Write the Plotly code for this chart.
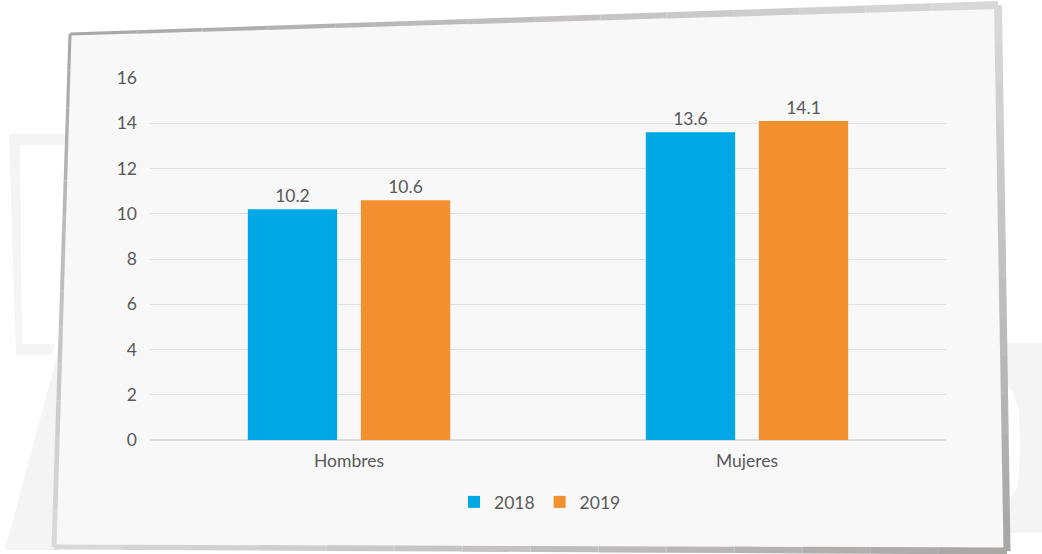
import plotly.graph_objects as go

categories = ["Hombres", "Mujeres"]
years = ["2018", "2019"]
values_2018 = [10.2, 13.6]
values_2019 = [10.6, 14.1]
y_ticks = [0, 2, 4, 6, 8, 10, 12, 14, 16]

COLORS = {"2018": "#00a9e5", "2019": "#f28f2e"}
TEXT = "#595959"
FONT = "Lato, 'Open Sans', sans-serif"
FS = 17.5

W, H = 1042, 554
L, R, T, B = 150, 96, 78, 114
PW, PH = W - L - R, H - T - B


def px(x, y):
    """pixel -> paper coords"""
    return (x - L) / PW, (H - B - y) / PH


def path(points):
    pts = [px(x, y) for x, y in points]
    return "M " + " L ".join(f"{a:.5f},{b:.5f}" for a, b in pts) + " Z"


def mix(c1, c2, t):
    a = [int(c1[i:i + 2], 16) for i in (1, 3, 5)]
    b = [int(c2[i:i + 2], 16) for i in (1, 3, 5)]
    return "rgb(%d,%d,%d)" % tuple(round(a[k] + (b[k] - a[k]) * t) for k in range(3))


fig = go.Figure()
for year, vals in zip(years, [values_2018, values_2019]):
    fig.add_trace(
        go.Bar(
            x=categories,
            y=vals,
            name=year,
            marker=dict(color=COLORS[year], line=dict(width=0)),
            text=vals,
            texttemplate="%{y:.1f}",
            textposition="outside",
            textfont=dict(size=FS, color=TEXT, family=FONT),
            cliponaxis=False,
            hovertemplate="%{x}<br>" + year + ": %{y}<extra></extra>",
        )
    )

shapes = []
# faint background decorations
bg = "#f4f4f4"
shapes.append(dict(type="path", xref="paper", yref="paper", layer="below", line=dict(width=0), fillcolor=bg,
                   path=path([(9, 134), (72, 134), (72, 145), (20, 145), (22, 344), (55, 344), (52, 355), (16, 355)])))
shapes.append(dict(type="path", xref="paper", yref="paper", layer="below", line=dict(width=0), fillcolor=bg,
                   path=path([(60, 345), (64, 345), (60, 550), (5, 550)])))
shapes.append(dict(type="path", xref="paper", yref="paper", layer="below", line=dict(width=0), fillcolor=bg,
                   path=path([(1003, 343), (1042, 343), (1042, 533), (1003, 533)])))
shapes.append(dict(type="path", xref="paper", yref="paper", layer="below", line=dict(width=0), fillcolor="#ffffff",
                   path=path([(1003, 385), (1012, 390), (1019, 410), (1020, 450), (1018, 485), (1010, 500), (1003, 505)])))

# tilted card
TL, TR, BR, BL = (70, 34), (998, 5), (1007, 551), (54, 547)
shapes.append(dict(type="path", xref="paper", yref="paper", layer="below", line=dict(width=0), fillcolor="#f8f8f8",
                   path=path([TL, TR, BR, BL])))

dark, light = "#a8a5a5", "#dadada"
edges = [
    (TL, TR, dark, light, 3, 8),
    (TR, BR, light, dark, 8, 7),
    (BR, BL, dark, light, 7, 5),
    (BL, TL, light, dark, 5, 3),
]
n = 14
for (x0, y0), (x1, y1), c0, c1, w0, w1 in edges:
    for i in range(n):
        t0, t1 = i / n, (i + 1) / n
        tm = (t0 + t1) / 2
        a = px(x0 + (x1 - x0) * t0, y0 + (y1 - y0) * t0)
        b = px(x0 + (x1 - x0) * t1, y0 + (y1 - y0) * t1)
        shapes.append(dict(type="line", xref="paper", yref="paper", layer="below",
                           x0=a[0], y0=a[1], x1=b[0], y1=b[1],
                           line=dict(color=mix(c0, c1, tm), width=w0 + (w1 - w0) * tm)))

# hide gridline at the top tick
shapes.append(dict(type="line", xref="paper", yref="y", layer="above", x0=0, x1=1, y0=16, y1=16,
                   line=dict(color="#f8f8f8", width=3)))

fig.update_layout(
    width=W,
    height=H,
    margin=dict(l=L, r=R, t=T, b=B),
    paper_bgcolor="#ffffff",
    plot_bgcolor="rgba(0,0,0,0)",
    font=dict(family=FONT, size=FS, color=TEXT),
    barmode="group",
    bargap=0.432,
    bargroupgap=0.21,
    showlegend=True,
    legend=dict(orientation="h", x=px(540, 0)[0], xanchor="center", y=px(0, 502)[1], yanchor="middle",
                font=dict(size=FS, color=TEXT), itemwidth=30, bgcolor="rgba(0,0,0,0)"),
    shapes=shapes,
    xaxis=dict(showgrid=False, showline=False, ticks="", tickfont=dict(size=FS, color=TEXT),
               ticklabelstandoff=8),
    yaxis=dict(range=[0, 16], tickvals=y_ticks, showgrid=True, gridcolor="#e0e0e0", gridwidth=1,
               zeroline=True, zerolinecolor="#dcdcdc", zerolinewidth=1.5, showline=False, ticks="",
               tickfont=dict(size=FS, color=TEXT), ticklabelstandoff=12),
)

fig.write_html("out.html", config={"displayModeBar": False},
               post_script="document.body.style.margin='0';")
